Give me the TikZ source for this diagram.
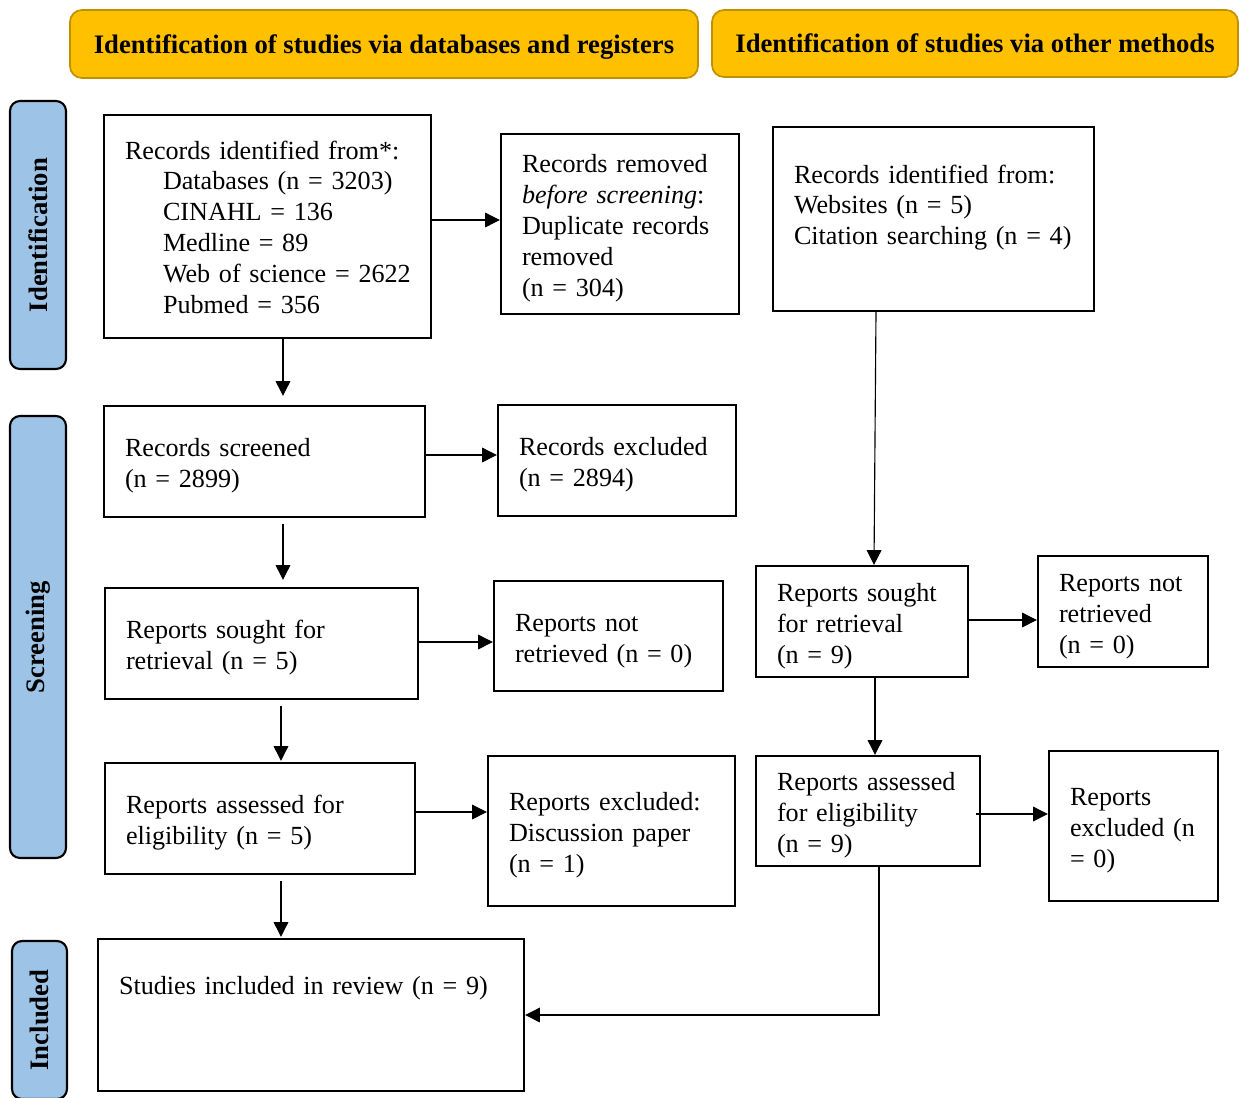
\documentclass[tikz,border=0pt]{standalone}
\usepackage{fontspec}
\setmainfont{Liberation Serif}
\usetikzlibrary{arrows.meta,calc}
\definecolor{headyellow}{RGB}{255,192,0}
\definecolor{headborder}{RGB}{191,144,0}
\definecolor{sideblue}{RGB}{157,195,230}
\begin{document}
\begin{tikzpicture}[x=0.75pt,y=-0.75pt,
  box/.style={draw, line width=1.8pt, align=left, inner xsep=15.75pt, inner ysep=0pt,
    font=\fontsize{19.6}{23.2}\selectfont},
  mid/.style={box, text height=20.2pt},
  side/.style={draw, line width=1.6pt, fill=sideblue, rounded corners=7.5pt, rotate=90,
    minimum height=42pt, inner sep=0pt, font=\bfseries\fontsize{20}{24}\selectfont},
  head/.style={draw=headborder, line width=1.3pt, fill=headyellow, rounded corners=9pt,
    inner sep=0pt, text depth=0pt, font=\bfseries\fontsize{20}{24}\selectfont},
  arr/.style={-{Triangle[length=11pt,width=11pt]}, line width=0.85pt}]
\useasboundingbox (0,0) rectangle (1239,1097);

% headers
\node[head, minimum width=471pt, minimum height=51pt] (h1) at (384,44) {Identification of studies via databases and registers};
\node[head, minimum width=394.5pt, minimum height=50.25pt] (h2) at (975,43.5) {Identification of studies via other methods};

% side labels
\node[side, minimum width=201pt] (s1) at (38,235) {Identification};
\node[side, minimum width=331.5pt] (s2) at (38,637) {Screening};
\node[side, minimum width=118.5pt, minimum height=41.25pt] (s3) at (39.5,1020) {Included};

% boxes
\node[box, text height=15pt, minimum width=245.25pt, minimum height=167.25pt, text width=213.75pt] (A) at (267.5,226.5)
 {\mbox{Records identified from*:}\\
  \hspace*{28.5pt}\mbox{Databases (n = 3203)}\\
  \hspace*{28.5pt}\mbox{CINAHL = 136}\\
  \hspace*{28.5pt}\mbox{Medline = 89}\\
  \hspace*{28.5pt}\mbox{Web of science = 2622}\\
  \hspace*{28.5pt}\mbox{Pubmed = 356}};
\node[mid, minimum width=178.5pt, minimum height=135pt, text width=147pt] (B) at (620,224)
 {\mbox{Records removed}\\ \mbox{\textit{before screening}:}\\ \mbox{Duplicate records}\\ removed\\ \mbox{(n = 304)}};
\node[box, minimum width=240.75pt, text width=209.25pt, text height=42pt, text depth=96pt] (C) at (933.5,219)
 {\mbox{Records identified from:}\\ \mbox{Websites (n = 5)}\\ \mbox{Citation searching (n = 4)}};
\node[mid, minimum width=240.75pt, minimum height=83.25pt, text width=209.25pt] (D) at (264.5,461.5)
 {\mbox{Records screened}\\ \mbox{(n = 2899)}};
\node[mid, minimum width=178.5pt, minimum height=83.25pt, text width=147pt] (E) at (617,460.5)
 {\mbox{Records excluded}\\ \mbox{(n = 2894)}};
\node[mid, minimum width=234.75pt, minimum height=83.25pt, text width=203.25pt] (F) at (261.5,643.5)
 {\mbox{Reports sought for}\\ \mbox{retrieval (n = 5)}};
\node[mid, minimum width=171.75pt, minimum height=82.5pt, text width=140.25pt] (G) at (608.5,636)
 {\mbox{Reports not}\\ \mbox{retrieved (n = 0)}};
\node[mid, minimum width=159pt, minimum height=83.25pt, text width=127.5pt] (H) at (862,621.5)
 {\mbox{Reports sought}\\ \mbox{for retrieval}\\ \mbox{(n = 9)}};
\node[mid, minimum width=127.5pt, minimum height=83.25pt, text width=96pt] (I) at (1123,611.5)
 {\mbox{Reports not}\\ \mbox{retrieved}\\ \mbox{(n = 0)}};
\node[mid, minimum width=232.5pt, minimum height=83.25pt, text width=201pt] (J) at (260,818.5)
 {\mbox{Reports assessed for}\\ \mbox{eligibility (n = 5)}};
\node[mid, minimum width=185.25pt, minimum height=112.5pt, text width=153.75pt] (K) at (611.5,831)
 {\mbox{Reports excluded:}\\ \mbox{Discussion paper}\\ \mbox{(n = 1)}};
\node[mid, minimum width=168pt, minimum height=82.5pt, text width=136.5pt] (L) at (868,811)
 {\mbox{Reports assessed}\\ \mbox{for eligibility}\\ \mbox{(n = 9)}};
\node[mid, minimum width=126.75pt, minimum height=112.5pt, text width=95.25pt] (M) at (1133.5,826)
 {\mbox{Reports}\\ \mbox{excluded (n}\\ \mbox{= 0)}};
\node[box, minimum width=319.5pt, text width=288pt, text height=41.25pt, text depth=72.75pt] (N) at (311,1015)
 {\mbox{Studies included in review (n = 9)}};

% connectors
\draw[arr] ($(A.east |- B.west)+(0,-4)$) -- ($(B.west)+(0,-4)$);
\draw[arr] ($(A.south)+(15.5,0)$) -- ($(A.south |- D.north)+(15.5,-9)$);
\draw[arr] ($(D.east |- E.west)+(0,-5.5)$) -- ($(E.west)+(0,-5.5)$);
\draw[arr] ($(D.south)+(18.5,6)$) -- ($(D.south |- F.north)+(18.5,-7)$);
\draw[arr] ($(F.east |- G.west)+(0,6)$) -- ($(G.west)+(0,6)$);
\draw[arr] ($(F.south)+(19.5,6)$) -- ($(F.south |- J.north)+(19.5,-1)$);
\draw[arr] ($(J.east |- K.west)+(0,-19)$) -- ($(K.west)+(0,-19)$);
\draw[arr] ($(J.south)+(21,6)$) -- ($(J.south |- N.north)+(21,-1)$);
\draw[arr] ($(H.north |- C.south)+(14,0)$) -- ($(H.north)+(12,0)$);
\draw[arr] ($(H.east |- I.west)+(0,8.5)$) -- ($(I.west)+(0,8.5)$);
\draw[arr] ($(H.south)+(13,0)$) -- ($(H.south |- L.north)+(13,0)$);
\draw[arr] ($(L.east |- M.west)+(-5,-12)$) -- ($(M.west)+(0,-12)$);
\draw[arr] ($(L.south)+(11,0)$) |- (N.east);
\end{tikzpicture}
\end{document}
